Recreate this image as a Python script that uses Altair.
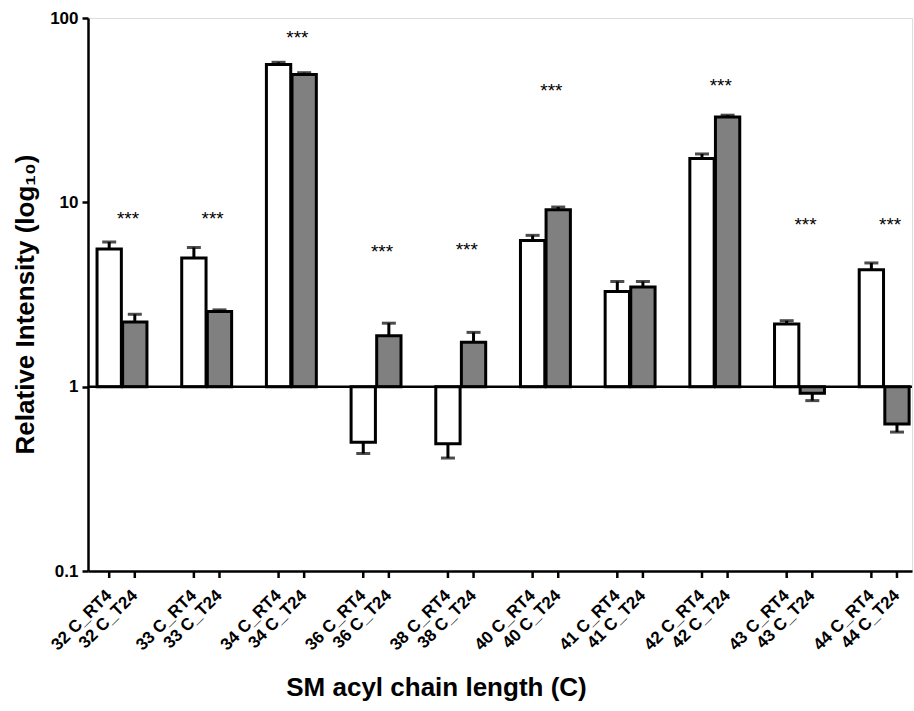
import altair as alt
import pandas as pd

# ---- data ----
groups = ["32", "33", "34", "36", "38", "40", "41", "42", "43", "44"]
series = ["RT4", "T24"]
rt4_mean = [5.58, 4.99, 56.0, 0.50, 0.49, 6.21, 3.28, 17.3, 2.19, 4.31]
rt4_sem = [0.51, 0.70, 1.5, 0.066, 0.08, 0.41, 0.44, 1.0, 0.09, 0.38]
t24_mean = [2.24, 2.56, 49.4, 1.89, 1.74, 9.12, 3.47, 29.0, 0.92, 0.627]
t24_sem = [0.23, 0.05, 1.1, 0.32, 0.23, 0.31, 0.25, 0.7, 0.08, 0.06]
star_groups = ["32", "33", "34", "36", "38", "40", "42", "43", "44"]
star_level = [8.4, 8.4, 81.0, 5.55, 5.7, 41.7, 44.3, 7.8, 7.8]

rows = []
for i, g in enumerate(groups):
    for s, m, e in (("RT4", rt4_mean[i], rt4_sem[i]), ("T24", t24_mean[i], t24_sem[i])):
        end = m + e if m >= 1 else m - e
        rows.append(dict(group=g, series=s, value=m, err_end=end, label=f"{g} C_{s}"))
df = pd.DataFrame(rows)
stars = pd.DataFrame({"group": star_groups, "level": star_level})

W, H = 824, 553
FONT = "Liberation Sans"

xscale = alt.Scale(domain=groups, paddingInner=0.4, paddingOuter=0.065, align=0.78)
x_enc = alt.X(
    "group:N", scale=xscale, sort=groups,
    axis=alt.Axis(
        title="SM acyl chain length (C)", labels=False, ticks=False, grid=False,
        domainWidth=2.5, domainColor="black",
        titleFont=FONT, titleFontSize=26, titleFontWeight="bold", titleColor="black",
        titleX=348, titleY=124, titleBaseline="alphabetic", titleAlign="center",
    ),
)
xo_enc = alt.XOffset("series:N", sort=series,
                     scale=alt.Scale(domain=series, paddingInner=0.05, paddingOuter=0.0175))
yscale = alt.Scale(type="log", domain=[0.1, 100], nice=False)
yaxis = alt.Axis(
    title="Relative Intensity (log₁₀)", values=[0.1, 1, 10, 100], format="~g", grid=False,
    domainWidth=2.5, domainColor="black", tickWidth=2.5, tickColor="black", tickSize=6,
    labelFont=FONT, labelFontSize=17, labelFontWeight="bold", labelColor="black", labelPadding=4,
    titleFont=FONT, titleFontSize=26, titleFontWeight="bold", titleColor="black",
    titleX=-55, titleY=286, titleBaseline="alphabetic", titleAngle=270, titleAlign="center",
)

base = alt.Chart(df)

bars = base.mark_bar(stroke="black", strokeWidth=3).encode(
    x=x_enc, xOffset=xo_enc,
    y=alt.Y("value:Q", scale=yscale, axis=yaxis),
    y2=alt.datum(1),
    fill=alt.Fill("series:N", scale=alt.Scale(domain=series, range=["#ffffff", "#808080"]), legend=None),
)

stems = base.mark_rule(color="black", strokeWidth=3).encode(
    x=x_enc, xOffset=xo_enc,
    y=alt.Y("err_end:Q", scale=yscale, axis=yaxis),
    y2="value:Q",
)

caps = base.mark_tick(color="black", thickness=3, size=14, orient="horizontal").encode(
    x=x_enc, xOffset=xo_enc,
    y=alt.Y("err_end:Q", scale=yscale, axis=yaxis),
)

baseline = alt.Chart(pd.DataFrame({"v": [1]})).mark_rule(color="black", strokeWidth=2.5).encode(
    y=alt.Y("v:Q", scale=yscale, axis=yaxis),
)

xticks = base.mark_rule(color="black", strokeWidth=2.5).encode(
    x=x_enc, xOffset=xo_enc,
    y=alt.value(H), y2=alt.value(H + 7),
)

xlabels = base.mark_text(
    angle=315, align="right", baseline="middle",
    font=FONT, fontSize=17, fontWeight="bold", color="black",
).encode(
    x=x_enc, xOffset=xo_enc,
    y=alt.value(H + 22),
    text="label:N",
)

star_text = alt.Chart(stars).mark_text(
    text="***", font=FONT, fontSize=19, baseline="middle", dx=6, dy=3, color="black",
).encode(
    x=x_enc,
    y=alt.Y("level:Q", scale=yscale, axis=yaxis),
)

chart = alt.layer(bars, stems, caps, baseline, xticks, xlabels, star_text).properties(
    width=W, height=H,
    padding={"left": 88, "top": 18, "right": 2, "bottom": 140},
    autosize=alt.AutoSizeParams(type="none"),
).configure_view(stroke=None).configure(background="white")

chart.save("out.html", embed_options={"renderer": "svg", "actions": False})
